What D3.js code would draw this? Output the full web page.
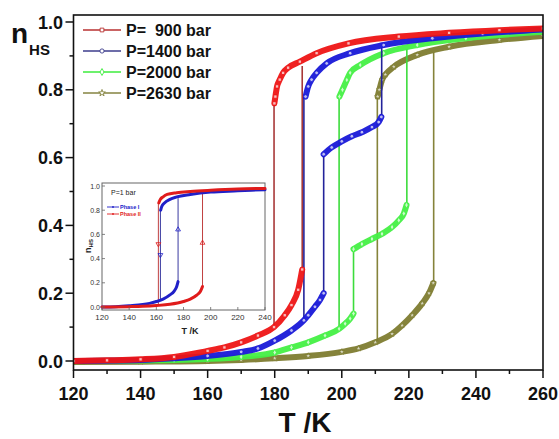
<!DOCTYPE html>
<html><head><meta charset="utf-8">
<script src="https://cdn.jsdelivr.net/npm/d3@7"></script>
<style>body{margin:0;background:#fff}svg{display:block;font-family:"Liberation Sans",Arial,sans-serif}</style>
</head><body>
<svg id="c" width="559" height="439"></svg>
<script>
// ---------- DATA ----------
const xTicks = [120,140,160,180,200,220,240,260];
const yTicks = [0.0,0.2,0.4,0.6,0.8,1.0];
const seriesNames = ["P=  900 bar","P=1400 bar","P=2000 bar","P=2630 bar"];

// P=900 bar
const p900Upper = [[260,0.981],[247,0.976],[232,0.968],[217,0.957],[202,0.937],[192.5,0.908],[187.5,0.883],[184,0.865],[182.5,0.85],[181.5,0.83],[180.7,0.81],[180.2,0.78],[179.9,0.76]];
const p900Lower = [[120,0],[130,0.002],[140,0.005],[150,0.012],[160,0.03],[165,0.04],[170,0.055],[175,0.075],[179.8,0.10],[183,0.135],[185,0.165],[187,0.21],[188.2,0.27]];
const p900Jumps = [[179.8,0.76,0.10],[188.2,0.27,0.87]];
// P=1400 bar
const p1400Upper = [[260,0.978],[242,0.966],[227,0.952],[212.5,0.932],[202.5,0.908],[195.5,0.878],[192.5,0.85],[191,0.83],[190,0.81],[189.2,0.78]];
const p1400Lower = [[120,0],[140,0.003],[150,0.008],[160,0.015],[170,0.027],[175,0.037],[180,0.06],[185,0.09],[188.7,0.12],[190,0.135],[192,0.16],[193.5,0.18],[194.6,0.2]];
const p1400Step = [[194.6,0.61],[197,0.63],[200,0.648],[203,0.663],[206,0.675],[209,0.69],[211,0.705],[211.8,0.72]];
const p1400Jumps = [[188.7,0.78,0.12],[194.6,0.2,0.61],[211.9,0.72,0.925]];
// P=2000 bar
const p2000Upper = [[260,0.971],[237,0.952],[222.5,0.932],[212.5,0.908],[205.5,0.873],[202.5,0.85],[201.5,0.829],[200.2,0.80],[199.3,0.78]];
const p2000Lower = [[120,0],[150,0.003],[160,0.006],[170,0.012],[180,0.025],[185,0.04],[190,0.055],[195,0.075],[199.2,0.095],[201,0.11],[202.5,0.125],[203.5,0.14]];
const p2000Step = [[203.5,0.33],[206,0.345],[209,0.36],[212,0.375],[215,0.395],[217,0.415],[218.5,0.435],[219.3,0.46]];
const p2000Jumps = [[199.2,0.78,0.095],[203.5,0.14,0.33],[219.4,0.46,0.92]];
// P=2630 bar
const p2630Upper = [[260,0.959],[247,0.947],[232,0.927],[222.5,0.903],[215.5,0.868],[213,0.845],[212,0.829],[211.2,0.80],[210.7,0.78]];
const p2630Lower = [[120,-0.003],[140,-0.002],[160,0],[170,0.003],[180,0.008],[190,0.015],[200,0.027],[205,0.037],[210,0.055],[215,0.08],[218,0.105],[221,0.135],[224,0.17],[226,0.2],[227.3,0.23]];
const p2630Jumps = [[210.6,0.78,0.058],[227.4,0.23,0.91]];

// Inset (P = 1 bar)
const insetXTicks = [120,140,160,180,200,220,240];
const insetYTicks = [0.0,0.2,0.4,0.6,0.8,1.0];
const insetNames = ["Phase I","Phase II"];
const phaseILower = [[120,0],[130,0.003],[140,0.01],[150,0.02],[155,0.03],[160,0.045],[165,0.065],[170,0.1],[173,0.13],[175,0.17],[176,0.21]];
const phaseIUpper = [[240,0.97],[220,0.96],[200,0.95],[185,0.93],[175,0.91],[170,0.89],[166,0.86],[164,0.83],[163.2,0.8]];
const phaseIJumps = [[163,0.8,0.05],[176,0.21,0.9]];
const phaseIILower = [[120,0],[140,0.003],[150,0.006],[160,0.012],[170,0.022],[180,0.045],[185,0.065],[190,0.1],[192.5,0.13],[194,0.17]];
const phaseIIUpper = [[240,0.98],[220,0.975],[200,0.965],[185,0.955],[175,0.945],[168,0.93],[165,0.91],[163,0.89],[161.8,0.86]];
const phaseIIJumps = [[161.5,0.86,0.02],[194,0.17,0.95]];
const insetArrows = [[161.5,0.52,"down",1],[163,0.43,"down",0],[176,0.64,"up",0],[194,0.53,"up",1]];

// ---------- DRAW ----------
const svg = d3.select("#c");
const L=73.5, R=543, T=15, B=370;
const x = d3.scaleLinear().domain([120,260]).range([L,R]);
const y = d3.scaleLinear().domain([0,1]).range([361,22]);

const bandCol = ["#ee1515","#1818d8","#44f044","#7e7c30"];
const jumpCol = ["#a83838","#23239a","#3cdc3c","#85833a"];
const legCol  = ["#b83030","#3c3c8c","#3cec3c","#858340"];
const symTypes = [d3.symbolSquare, d3.symbolCircle, d3.symbolDiamond, d3.symbolStar];

const line = d3.line().x(d=>x(d[0])).y(d=>y(d[1])).curve(d3.curveMonotoneX);

svg.append("clipPath").attr("id","pc").append("rect").attr("x",L).attr("y",T).attr("width",R-L).attr("height",B-T);
const plot = svg.append("g").attr("clip-path","url(#pc)");

const series = [
  {bands:[p900Upper.slice().reverse(),p900Lower], jumps:p900Jumps},
  {bands:[p1400Upper.slice().reverse(),p1400Lower,p1400Step], jumps:p1400Jumps},
  {bands:[p2000Upper.slice().reverse(),p2000Lower,p2000Step], jumps:p2000Jumps},
  {bands:[p2630Upper.slice().reverse(),p2630Lower], jumps:p2630Jumps}
];
[3,2,1,0].forEach(i=>{
  const s = series[i];
  s.jumps.forEach(j=>{
    plot.append("line").attr("x1",x(j[0])).attr("x2",x(j[0])).attr("y1",y(j[1])).attr("y2",y(j[2]))
      .attr("stroke",jumpCol[i]).attr("stroke-width",1.6);
  });
  s.bands.forEach(b=>{
    plot.append("path").attr("d",line(b)).attr("fill","none").attr("stroke",bandCol[i])
      .attr("stroke-width",6).attr("stroke-linecap","round").attr("opacity",0.95);
  });
  const sym = d3.symbol().type(symTypes[i]).size(11);
  s.bands.forEach(b=>{
    plot.selectAll(null).data(b).enter().append("path").attr("d",sym)
      .attr("transform",d=>`translate(${x(d[0])},${y(d[1])})`)
      .attr("fill","#fff").attr("fill-opacity",0.7).attr("stroke",bandCol[i]).attr("stroke-width",0.8);
  });
});

// frame & axes
svg.append("rect").attr("x",L).attr("y",T).attr("width",R-L).attr("height",B-T)
  .attr("fill","none").attr("stroke","#111").attr("stroke-width",1.6);
const ax = svg.append("g").attr("stroke","#111").attr("stroke-width",1.5);
xTicks.forEach(t=>ax.append("line").attr("x1",x(t)).attr("x2",x(t)).attr("y1",B).attr("y2",B+8));
d3.range(130,260,20).forEach(t=>ax.append("line").attr("x1",x(t)).attr("x2",x(t)).attr("y1",B).attr("y2",B+4));
yTicks.forEach(t=>ax.append("line").attr("x1",L-8).attr("x2",L).attr("y1",y(t)).attr("y2",y(t)));
d3.range(0.1,1,0.2).forEach(t=>ax.append("line").attr("x1",L-4).attr("x2",L).attr("y1",y(t)).attr("y2",y(t)));

svg.append("g").selectAll("text").data(xTicks).enter().append("text")
  .attr("x",d=>x(d)).attr("y",400).attr("text-anchor","middle")
  .attr("font-size",18).attr("font-weight","bold").attr("fill","#111").text(d=>d);
svg.append("g").selectAll("text").data(yTicks).enter().append("text")
  .attr("x",63).attr("y",d=>y(d)+6.5).attr("text-anchor","end")
  .attr("font-size",18).attr("font-weight","bold").attr("fill","#111").text(d=>d.toFixed(1));

svg.append("text").attr("x",305).attr("y",432).attr("text-anchor","middle")
  .attr("font-size",28).attr("font-weight","bold").attr("fill","#111").text("T /K");
const yl = svg.append("text").attr("x",11).attr("y",43).attr("font-weight","bold").attr("fill","#111");
yl.append("tspan").attr("font-size",28).text("n");
yl.append("tspan").attr("font-size",15).attr("dy",12).attr("dx",1).text("HS");

// legend
seriesNames.forEach((nm,i)=>{
  const yy = 30 + i*21;
  svg.append("line").attr("x1",83).attr("x2",121).attr("y1",yy).attr("y2",yy).attr("stroke",legCol[i]).attr("stroke-width",1.6);
  svg.append("path").attr("d",d3.symbol().type(symTypes[i]).size(14)).attr("transform",`translate(102,${yy})`)
    .attr("fill","#fff").attr("stroke",legCol[i]).attr("stroke-width",0.9);
  svg.append("text").attr("x",126).attr("y",yy+5.5).attr("font-size",16).attr("font-weight","bold")
    .attr("fill","#111").attr("xml:space","preserve").style("white-space","pre").text(nm);
});

// ---------- INSET ----------
const iL=102, iR=265, iT=183, iB=310;
const ix = d3.scaleLinear().domain([120,240]).range([iL,iR]);
const iy = d3.scaleLinear().domain([0,1]).range([307,186]);
const ins = svg.append("g");
ins.append("rect").attr("x",iL).attr("y",iT).attr("width",iR-iL).attr("height",iB-iT).attr("fill","#fff").attr("stroke","#666").attr("stroke-width",1);
const iline = d3.line().x(d=>ix(d[0])).y(d=>iy(d[1])).curve(d3.curveMonotoneX);
const insCol = ["#2020c8","#e01c1c"];
const insJump = ["#3a3aa0","#c04040"];
const insSeries = [
  {bands:[phaseIUpper.slice().reverse(),phaseILower], jumps:phaseIJumps},
  {bands:[phaseIIUpper.slice().reverse(),phaseIILower], jumps:phaseIIJumps}
];
[1,0].forEach(i=>{
  insSeries[i].jumps.forEach(j=>ins.append("line").attr("x1",ix(j[0])).attr("x2",ix(j[0])).attr("y1",iy(j[1])).attr("y2",iy(j[2]))
    .attr("stroke",insJump[i]).attr("stroke-width",1));
});
[0,1].forEach(i=>{
  insSeries[i].bands.forEach(b=>ins.append("path").attr("d",iline(b)).attr("fill","none").attr("stroke",insCol[i]).attr("stroke-width",3).attr("stroke-linecap","round"));
});
insetArrows.forEach(a=>{
  ins.append("path").attr("d",d3.symbol().type(d3.symbolTriangle).size(10))
    .attr("transform",`translate(${ix(a[0])},${iy(a[1])}) rotate(${a[2]==="down"?180:0})`)
    .attr("fill","none").attr("stroke",insCol[a[3]]).attr("stroke-width",0.8);
});
const iax = ins.append("g").attr("stroke","#666").attr("stroke-width",0.8);
insetXTicks.forEach(t=>iax.append("line").attr("x1",ix(t)).attr("x2",ix(t)).attr("y1",iB).attr("y2",iB-3));
insetYTicks.forEach(t=>iax.append("line").attr("x1",iL).attr("x2",iL+3).attr("y1",iy(t)).attr("y2",iy(t)));
ins.selectAll(".ixl").data(insetXTicks).enter().append("text").attr("x",d=>ix(d)).attr("y",320)
  .attr("text-anchor","middle").attr("font-size",8).attr("fill","#333").text(d=>d);
ins.selectAll(".iyl").data(insetYTicks).enter().append("text").attr("x",iL-2).attr("y",d=>iy(d)+2.5)
  .attr("text-anchor","end").attr("font-size",7).attr("fill","#333").text(d=>d.toFixed(1));
ins.append("text").attr("x",190).attr("y",334).attr("text-anchor","middle").attr("font-size",9).attr("font-weight","bold").attr("fill","#222").text("T /K");
const iyl = ins.append("text").attr("transform","translate(91,246) rotate(-90)").attr("text-anchor","middle").attr("font-weight","bold").attr("fill","#222");
iyl.append("tspan").attr("font-size",9).text("n");
iyl.append("tspan").attr("font-size",6).attr("dy",2).text("HS");
ins.append("text").attr("x",111).attr("y",195).attr("font-size",7).attr("fill","#222").text("P=1 bar");
insetNames.forEach((nm,i)=>{
  const yy = 207 + i*7;
  ins.append("line").attr("x1",107).attr("x2",119).attr("y1",yy).attr("y2",yy).attr("stroke",insCol[i]).attr("stroke-width",0.9);
  ins.append("circle").attr("cx",113).attr("cy",yy).attr("r",0.9).attr("fill",insCol[i]);
  ins.append("text").attr("x",120).attr("y",yy+2).attr("font-size",5.5).attr("font-weight","bold").attr("fill",insCol[i]).text(nm);
});
</script>
</body></html>
